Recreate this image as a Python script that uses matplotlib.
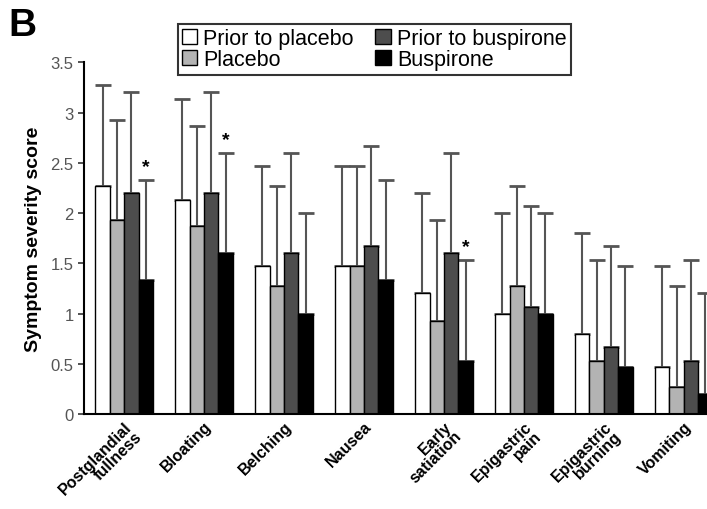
import numpy as np
import matplotlib
matplotlib.use('Agg')
import matplotlib.pyplot as plt

plt.rcParams['font.family'] = ['Liberation Sans', 'DejaVu Sans']

# Symptom categories
symptoms = ['Postglandial\nfullness', 'Bloating', 'Belching', 'Nausea',
            'Early\nsatiation', 'Epigastric\npain', 'Epigastric\nburning', 'Vomiting']

# Mean scores
prior_placebo = [2.27, 2.13, 1.47, 1.47, 1.20, 1.00, 0.80, 0.47]
placebo = [1.93, 1.87, 1.27, 1.47, 0.93, 1.27, 0.53, 0.27]
prior_buspirone = [2.20, 2.20, 1.60, 1.67, 1.60, 1.07, 0.67, 0.53]
buspirone = [1.33, 1.60, 1.00, 1.33, 0.53, 1.00, 0.47, 0.20]

# Upper error bar lengths
err_prior_placebo = [1.00, 1.00, 1.00, 1.00, 1.00, 1.00, 1.00, 1.00]
err_placebo = [1.00, 1.00, 1.00, 1.00, 1.00, 1.00, 1.00, 1.00]
err_prior_buspirone = [1.00, 1.00, 1.00, 1.00, 1.00, 1.00, 1.00, 1.00]
err_buspirone = [1.00, 1.00, 1.00, 1.00, 1.00, 1.00, 1.00, 1.00]

# Significant differences (index of symptom)
significant = [0, 1, 4]

series = [
    ('Prior to placebo', prior_placebo, err_prior_placebo, 'white'),
    ('Placebo', placebo, err_placebo, '#b3b3b3'),
    ('Prior to buspirone', prior_buspirone, err_prior_buspirone, '#4d4d4d'),
    ('Buspirone', buspirone, err_buspirone, 'black'),
]

fig = plt.figure(figsize=(7.07, 5.10), dpi=100)
ax = fig.add_axes([0.119, 0.186, 0.95, 0.69])

x = np.arange(len(symptoms))
w = 0.18
for i, (label, vals, errs, color) in enumerate(series):
    pos = x + (i - 1.5) * w
    ax.bar(pos, vals, w, color=color, edgecolor='black', linewidth=1.0,
           label=label, zorder=2)
    ax.errorbar(pos, vals, yerr=[np.zeros(len(vals)), errs], fmt='none',
                ecolor='#555555', elinewidth=1.5, capsize=6, capthick=2, zorder=1)

for idx in significant:
    xp = x[idx] + 1.5 * w
    ax.text(xp, buspirone[idx] + err_buspirone[idx] + 0.05, '*',
            ha='center', va='bottom', fontsize=14, fontweight='bold')

ax.set_xlim(-0.5, 7.9)
ax.set_ylim(0, 3.5)
ax.set_yticks([0, 0.5, 1, 1.5, 2, 2.5, 3, 3.5])
ax.set_yticklabels(['0', '0.5', '1', '1.5', '2', '2.5', '3', '3.5'], color='#555555')
ax.set_xticks(x)
ax.set_xticklabels(symptoms, rotation=45, ha='right', rotation_mode='anchor',
                   fontsize=11.5, fontweight='bold', linespacing=0.9)
ax.tick_params(axis='x', length=0, pad=3)
ax.tick_params(axis='y', length=4, width=1.2, labelsize=12, color='#333333')
ax.spines['top'].set_visible(False)
ax.spines['right'].set_visible(False)
ax.spines['left'].set_linewidth(1.5)
ax.spines['bottom'].set_linewidth(1.5)
ax.set_ylabel('Symptom severity score', fontsize=14, fontweight='bold', labelpad=6)

leg = fig.legend(loc='upper left', bbox_to_anchor=(0.236, 0.972), ncol=2,
                 fontsize=15.5, frameon=True, fancybox=False, edgecolor='black',
                 handlelength=0.7, handleheight=0.7, handletextpad=0.3,
                 columnspacing=1.0, labelspacing=0.0, borderpad=0.2)
leg.get_frame().set_linewidth(1.5)

fig.text(0.012, 0.985, 'B', fontsize=28, fontweight='bold', va='top', ha='left')

fig.savefig('out.png', dpi=100)
